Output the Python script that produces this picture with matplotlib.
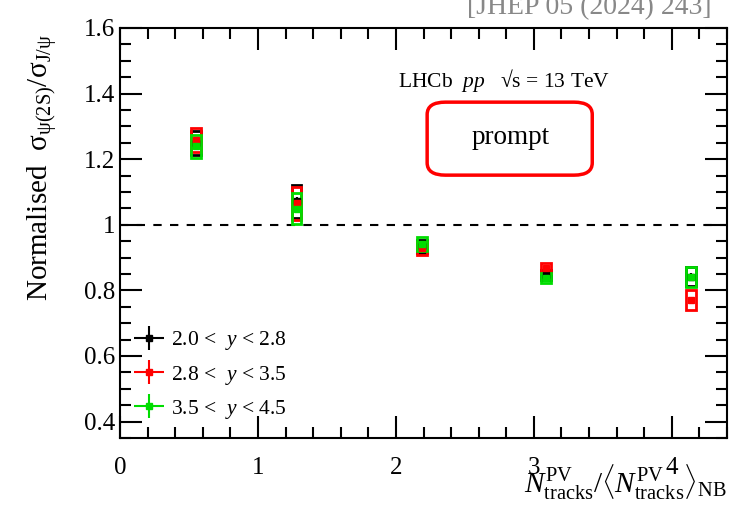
import numpy as np
import matplotlib.pyplot as plt
from matplotlib.patches import Rectangle, FancyBboxPatch
from matplotlib.ticker import MultipleLocator
from matplotlib.container import ErrorbarContainer
from matplotlib.legend_handler import HandlerErrorbar

plt.rcParams['font.family'] = ['Liberation Serif', 'DejaVu Serif']
plt.rcParams['mathtext.fontset'] = 'custom'
plt.rcParams['mathtext.rm'] = 'Liberation Serif'
plt.rcParams['mathtext.it'] = 'Liberation Serif:italic'

# multiplicity bins (x) and ratios per rapidity bin
x_pos = [0.55, 1.28, 2.19, 3.09, 4.14]
labels = ['2.0 <  $y$ < 2.8', '2.8 <  $y$ < 3.5', '3.5 <  $y$ < 4.5']
colors = ['black', 'red', '#00dd00']
ratio = [
    [1.250, 1.072, 0.935, 0.848, 0.842],
    [1.258, 1.066, 0.928, 0.868, 0.771],
    [1.240, 1.049, 0.941, 0.838, 0.840],
]
stat = [
    [0.010, 0.012, 0.006, 0.006, 0.010],
    [0.010, 0.012, 0.006, 0.006, 0.010],
    [0.010, 0.012, 0.006, 0.006, 0.010],
]
syst = [
    [0.036, 0.050, 0.020, 0.015, 0.030],
    [0.037, 0.050, 0.020, 0.015, 0.030],
    [0.035, 0.048, 0.022, 0.016, 0.031],
]
box_halfwidth = 0.035

fig = plt.figure(figsize=(7.3, 5.05), dpi=100)
ax = fig.add_axes([0.1644, 0.1327, 0.8315, 0.812])

ax.axhline(1.0, color='black', ls=(0, (4, 4)), lw=1.5, zorder=1)

for vals, st, sy, col, lab in zip(ratio, stat, syst, colors, labels):
    for xi, v, s in zip(x_pos, vals, sy):
        ax.add_patch(Rectangle((xi - box_halfwidth, v - s), 2 * box_halfwidth, 2 * s,
                               fill=False, edgecolor=col, lw=2, zorder=2))
    ax.errorbar(x_pos, vals, yerr=st, xerr=0.002, fmt='s', color=col, ms=4, lw=1.5,
                capsize=0, zorder=3, label=lab)

ax.set_xlim(0, 4.4)
ax.set_ylim(0.35, 1.6)
ax.xaxis.set_major_locator(MultipleLocator(1))
ax.xaxis.set_minor_locator(MultipleLocator(0.2))
ax.yaxis.set_minor_locator(MultipleLocator(0.05))
ax.set_yticks([0.4, 0.6, 0.8, 1.0, 1.2, 1.4, 1.6])
ax.set_yticklabels(['0.4', '0.6', '0.8', '1', '1.2', '1.4', '1.6'])
ax.tick_params(which='both', direction='in', top=True, right=True, width=1.5)
ax.tick_params(which='major', length=16, labelsize=18)
ax.tick_params(which='minor', length=8)
ax.tick_params(axis='x', pad=14)
for sp in ax.spines.values():
    sp.set_linewidth(1.5)

ax.set_ylabel(r'Normalised  $\mathrm{σ_{ψ(2S)}/σ_{J/ψ}}$', fontsize=21)
ax.yaxis.set_label_coords(-0.1, 0.66)
fig.text(0.996, 0.005,
         r'$N^{\mathrm{PV}}_{\mathrm{tracks}}/\langle N^{\mathrm{PV}}_{\mathrm{tracks}}\rangle_{\mathrm{NB}}$',
         fontsize=21, ha='right', va='bottom')

ax.text(0.458, 0.873, 'LHCb  $pp$   √s = 13 TeV', transform=ax.transAxes,
        fontsize=15.5, ha='left', va='center')
ax.add_patch(FancyBboxPatch((0.506, 0.641), 0.272, 0.178, transform=ax.transAxes,
                            boxstyle='round,pad=0,rounding_size=0.03',
                            fill=False, edgecolor='red', lw=2.5))
ax.text(0.644, 0.734, 'prompt', transform=ax.transAxes, fontsize=19.5,
        ha='center', va='center')

fig.text(0.975, 0.985, '[JHEP 05 (2024) 243]', color='#888888', fontsize=20,
         ha='right', va='center')

leg = ax.legend(loc='lower left', bbox_to_anchor=(-0.005, 0.0), frameon=False,
                fontsize=15.5, handlelength=1.4, handletextpad=0.3, labelspacing=0.52,
                borderpad=0.3,
                handler_map={ErrorbarContainer: HandlerErrorbar(xerr_size=0.7, yerr_size=0.55)})

fig.savefig('out.png', dpi=100)
